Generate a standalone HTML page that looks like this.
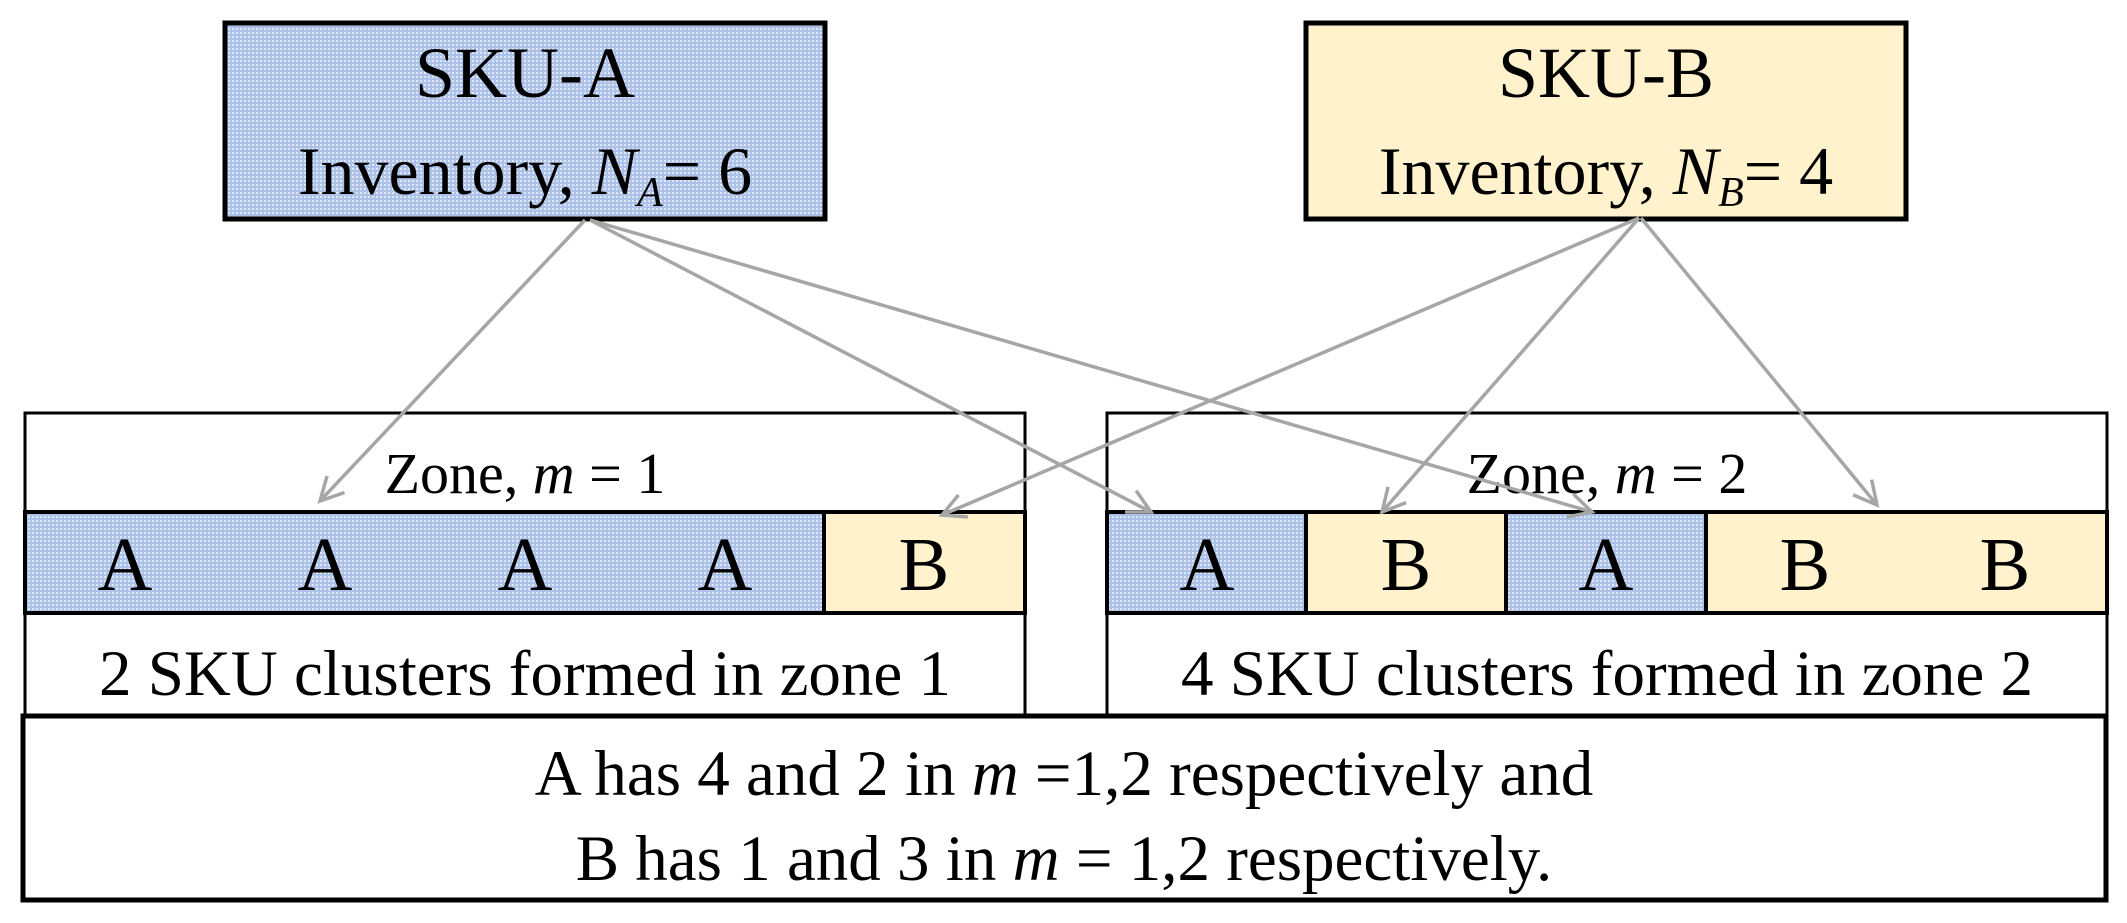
<!DOCTYPE html>
<html><head><meta charset="utf-8"><style>html,body{margin:0;padding:0;background:#fff}</style></head>
<body>
<svg width="2127" height="918" xmlns="http://www.w3.org/2000/svg" font-family="Liberation Serif, serif">
<defs>
<pattern id="dots" width="4" height="4" patternUnits="userSpaceOnUse">
<rect width="4" height="4" fill="#adc2e8"/><rect x="0" y="0" width="2" height="2" fill="#dfe7f6"/>
</pattern>
<marker id="ah" markerWidth="30" markerHeight="30" refX="26" refY="15" orient="auto" markerUnits="userSpaceOnUse">
<path d="M3,3 L26,15 L3,27" fill="none" stroke="#a6a6a6" stroke-width="3.5"/>
</marker>
</defs>
<rect x="225" y="23" width="600" height="196" fill="url(#dots)" stroke="#000" stroke-width="5"/>
<text x="525" y="97" font-size="72" text-anchor="middle">SKU-A</text>
<text x="525" y="194" font-size="68" text-anchor="middle">Inventory, <tspan font-style="italic">N</tspan><tspan font-style="italic" font-size="42" dy="12">A</tspan><tspan dy="-12">= 6</tspan></text>
<rect x="1306" y="23" width="600" height="196" fill="#fff2cc" stroke="#000" stroke-width="5"/>
<text x="1606" y="97" font-size="72" text-anchor="middle">SKU-B</text>
<text x="1606" y="194" font-size="68" text-anchor="middle">Inventory, <tspan font-style="italic">N</tspan><tspan font-style="italic" font-size="42" dy="12">B</tspan><tspan dy="-12">= 4</tspan></text>
<rect x="25" y="413" width="1000" height="302" fill="#fff" stroke="#000" stroke-width="3"/>
<rect x="25" y="512" width="799" height="101" fill="url(#dots)" stroke="#000" stroke-width="4"/>
<rect x="824" y="512" width="201" height="101" fill="#fff2cc" stroke="#000" stroke-width="4"/>
<text x="525" y="493" font-size="58" text-anchor="middle">Zone, <tspan font-style="italic">m</tspan>  = 1</text>
<g font-size="76" text-anchor="middle">
<text x="125" y="590">A</text><text x="325" y="590">A</text><text x="525" y="590">A</text><text x="725" y="590">A</text><text x="924" y="590">B</text>
</g>
<text x="525" y="695" font-size="65" text-anchor="middle">2  SKU clusters formed in zone 1</text>
<rect x="1107" y="413" width="1000" height="302" fill="#fff" stroke="#000" stroke-width="3"/>
<rect x="1107" y="512" width="199" height="101" fill="url(#dots)" stroke="#000" stroke-width="4"/>
<rect x="1306" y="512" width="200" height="101" fill="#fff2cc" stroke="#000" stroke-width="4"/>
<rect x="1506" y="512" width="200" height="101" fill="url(#dots)" stroke="#000" stroke-width="4"/>
<rect x="1706" y="512" width="401" height="101" fill="#fff2cc" stroke="#000" stroke-width="4"/>
<text x="1607" y="493" font-size="58" text-anchor="middle">Zone, <tspan font-style="italic">m</tspan>  = 2</text>
<g font-size="76" text-anchor="middle">
<text x="1207" y="590">A</text><text x="1406" y="590">B</text><text x="1606" y="590">A</text><text x="1805" y="590">B</text><text x="2005" y="590">B</text>
</g>
<text x="1607" y="695" font-size="65" text-anchor="middle">4 SKU clusters formed in zone 2</text>
<rect x="23" y="716" width="2083" height="184" fill="#fff" stroke="#000" stroke-width="5"/>
<text x="1064" y="795" font-size="65" text-anchor="middle">A has 4 and 2 in <tspan font-style="italic">m</tspan> =1,2 respectively and</text>
<text x="1064" y="880" font-size="65" text-anchor="middle">B has 1 and 3 in <tspan font-style="italic">m</tspan> = 1,2 respectively.</text>
<g stroke="#a6a6a6" stroke-width="3.5" fill="none" marker-end="url(#ah)">
<line x1="585" y1="220" x2="320" y2="501"/>
<line x1="590" y1="220" x2="1151" y2="512"/>
<line x1="590" y1="220" x2="1592" y2="512"/>
<line x1="1639" y1="218" x2="942" y2="515"/>
<line x1="1639" y1="218" x2="1382" y2="512"/>
<line x1="1641" y1="218" x2="1877" y2="505"/>
</g>
</svg>
</body></html>
